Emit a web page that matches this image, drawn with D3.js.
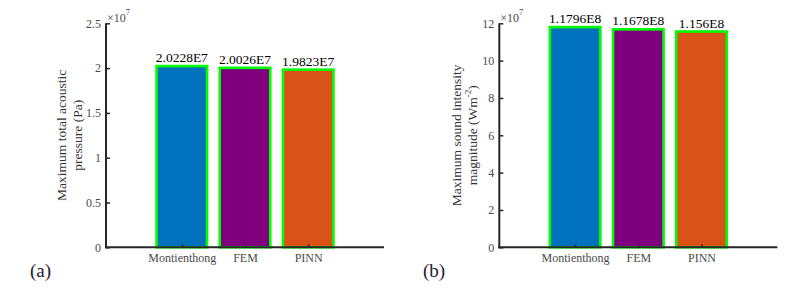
<!DOCTYPE html>
<html>
<head>
<meta charset="utf-8">
<script src="https://cdn.jsdelivr.net/npm/d3@7"></script>
<style>
  html, body { margin: 0; padding: 0; background: #fff; }
  svg { display: block; font-family: "Liberation Serif", "Times New Roman", serif; }
</style>
</head>
<body>
<svg id="chart" width="785" height="288"></svg>
<script>
// ---- data ----
const categories = ["Montienthong", "FEM", "PINN"];
const pressureValues = [2.0228e7, 2.0026e7, 1.9823e7];
const pressureLabels = ["2.0228E7", "2.0026E7", "1.9823E7"];
const intensityValues = [1.1796e8, 1.1678e8, 1.156e8];
const intensityLabels = ["1.1796E8", "1.1678E8", "1.156E8"];
const pressureTicks = [0, 0.5, 1, 1.5, 2, 2.5];
const intensityTicks = [0, 2, 4, 6, 8, 10, 12];
const barColors = ["#0072BD", "#7E007E", "#D95319"];

const svg = d3.select("#chart");

function panel(opts) {
  const g = svg.append("g");
  const x = d3.scaleLinear().domain([-0.2, 4.2]).range([opts.left, opts.left + 278]);
  const y = d3.scaleLinear().domain([0, opts.ymax]).range([247.3, 23.3]);
  const bw = 0.8;

  // bars
  g.selectAll("rect.bar").data(opts.values).enter().append("rect")
    .attr("x", (d, i) => x(i + 1 - bw / 2))
    .attr("width", x(bw) - x(0))
    .attr("y", d => y(d / 1e7))
    .attr("height", d => y(0) - y(d / 1e7))
    .attr("fill", (d, i) => barColors[i])
    .attr("stroke", "#00ff00")
    .attr("stroke-width", 2.6);

  // value labels
  g.selectAll("text.val").data(opts.values).enter().append("text")
    .attr("x", (d, i) => x(i + 1))
    .attr("y", d => y(d / 1e7) - 4)
    .attr("text-anchor", "middle")
    .attr("font-size", 13.5)
    .attr("fill", "#000")
    .text((d, i) => opts.labels[i]);

  // y axis
  const yAxis = d3.axisRight(y).tickValues(opts.ticks).tickSize(4).tickFormat(d => String(d));
  const ya = g.append("g").attr("transform", `translate(${opts.left},0)`).call(yAxis);
  ya.select(".domain").attr("stroke", "#262626").attr("stroke-width", 2)
    .attr("d", `M0,${y(0) + 1}V${y(opts.ymax)}`);
  ya.selectAll(".tick line").attr("stroke", "#262626").attr("stroke-width", 1.5);
  ya.selectAll(".tick text").attr("x", -5).attr("text-anchor", "end")
    .attr("font-size", 12).attr("fill", "#4a4a4a").attr("font-family", "Liberation Serif")
    .attr("dy", "0.32em");

  // x axis
  const xAxis = d3.axisTop(x).tickValues([1, 2, 3]).tickSize(3).tickFormat(d => categories[d - 1]);
  const xa = g.append("g").attr("transform", `translate(0,${y(0)})`).call(xAxis);
  xa.select(".domain").attr("stroke", "#262626").attr("stroke-width", 2)
    .attr("d", `M${opts.left - 1},0H${opts.left + 278}`);
  xa.selectAll(".tick line").attr("stroke", "#262626").attr("stroke-width", 1.5);
  xa.selectAll(".tick text").attr("y", 15).attr("dy", 0)
    .attr("font-size", 12).attr("fill", "#4a4a4a").attr("font-family", "Liberation Serif");

  // exponent
  const ex = g.append("text").attr("x", opts.left + 1).attr("y", 21.5)
    .attr("font-size", 12).attr("fill", "#4a4a4a");
  ex.append("tspan").text("\u00d710");
  ex.append("tspan").attr("font-size", 8.5).attr("dy", -7).text("7");

  // y label
  const cy = (y(0) + y(opts.ymax)) / 2;
  const l1 = g.append("text").attr("transform", `translate(${opts.lab1},${cy}) rotate(-90)`)
    .attr("text-anchor", "middle").attr("font-size", 13.5).attr("fill", "#333")
    .text(opts.ylab1);
  const l2 = g.append("text").attr("transform", `translate(${opts.lab2},${cy}) rotate(-90)`)
    .attr("text-anchor", "middle").attr("font-size", 13.5).attr("fill", "#333");
  l2.append("tspan").text(opts.ylab2);
  if (opts.sup) {
    l2.append("tspan").attr("font-size", 9).attr("dy", -6).text(opts.sup);
    l2.append("tspan").attr("dy", 6).text(")");
  }

  // panel letter
  g.append("text").attr("x", opts.letterX).attr("y", 277)
    .attr("font-size", 19).attr("fill", "#1c1c30").text(opts.letter);
}

panel({
  left: 106, ymax: 2.5, values: pressureValues, labels: pressureLabels, ticks: pressureTicks,
  ylab1: "Maximum total acoustic", ylab2: "pressure (Pa)", lab1: 66, lab2: 82,
  letter: "(a)", letterX: 30
});
panel({
  left: 499.3, ymax: 12, values: intensityValues, labels: intensityLabels, ticks: intensityTicks,
  ylab1: "Maximum sound intensity", ylab2: "magnitude (Wm", sup: "-2", lab1: 461, lab2: 477,
  letter: "(b)", letterX: 423
});
</script>
</body>
</html>
